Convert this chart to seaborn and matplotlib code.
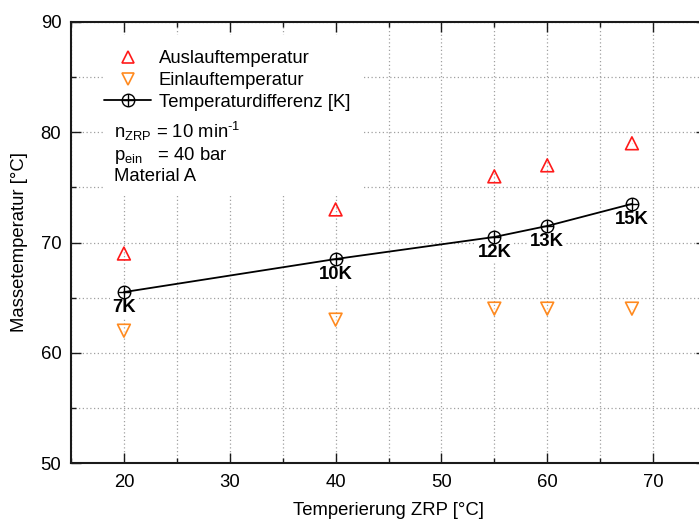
import numpy as np
import pandas as pd
import seaborn as sns
import matplotlib
matplotlib.use("Agg")
import matplotlib.pyplot as plt
from matplotlib.path import Path
from matplotlib.lines import Line2D
from matplotlib.patches import Rectangle
from matplotlib.ticker import MultipleLocator

# ---- data ----
temp_zrp = [20, 40, 55, 60, 68]
auslauf = [69, 73, 76, 77, 79]
einlauf = [62, 63, 64, 64, 64]
differenz_pos = [65.5, 68.5, 70.5, 71.5, 73.5]
differenz_labels = ["7K", "10K", "12K", "13K", "15K"]
legend_labels = ["Auslauftemperatur", "Einlauftemperatur", "Temperaturdifferenz [K]"]
info_lines = [r"n$_{\mathregular{ZRP}}$ = 10 min$^{\text{-1}}$",
              r"p$_{\mathregular{ein}}$   = 40 bar",
              "Material A"]

RED = "#ff1a1a"
ORANGE = "#ff8a1f"

sns.set_style("ticks")
plt.rcParams["font.family"] = ["Liberation Sans", "DejaVu Sans"]
plt.rcParams["mathtext.fontset"] = "custom"
plt.rcParams["mathtext.rm"] = "Liberation Sans"
plt.rcParams["mathtext.it"] = "Liberation Sans"
plt.rcParams["mathtext.bf"] = "Liberation Sans:bold"
for k in ["text.color", "axes.labelcolor", "xtick.color", "ytick.color"]:
    plt.rcParams[k] = "black"

FS = 13.3

fig = plt.figure(figsize=(6.99, 5.21), dpi=100)
ax = fig.add_axes([71 / 699, 58 / 521, 635 / 699, 441 / 521])

# circle with cross marker
circ = Path.unit_circle()
cross = Path([(-1, 0), (1, 0), (0, -1), (0, 1)],
             [Path.MOVETO, Path.LINETO, Path.MOVETO, Path.LINETO])
oplus = Path.make_compound_path(circ, cross)

df = pd.DataFrame({"x": temp_zrp, "aus": auslauf, "ein": einlauf, "diff": differenz_pos})

sns.lineplot(data=df, x="x", y="diff", color="black", lw=1.3, marker=oplus,
             markersize=9, markerfacecolor="none", markeredgecolor="black",
             markeredgewidth=1.0, ax=ax, zorder=4)
sns.scatterplot(data=df, x="x", y="aus", marker="^", s=85, facecolors="none",
                edgecolor=RED, linewidth=1.2, ax=ax, zorder=4)
sns.scatterplot(data=df, x="x", y="ein", marker="v", s=85, facecolors="none",
                edgecolor=ORANGE, linewidth=1.2, ax=ax, zorder=4)
# tiny centre dots
sns.scatterplot(data=df, x="x", y="aus", marker=".", s=2, color=RED, linewidth=0, ax=ax, zorder=4)
sns.scatterplot(data=df, x="x", y="ein", marker=".", s=2, color=ORANGE, linewidth=0, ax=ax, zorder=4)

for xv, yv, lab in zip(temp_zrp, differenz_pos, differenz_labels):
    ax.annotate(lab, (xv, yv), xytext=(0, -14.2), textcoords="offset points",
                ha="center", va="baseline", fontsize=FS, fontweight="bold",
                color="black", zorder=3.5,
                bbox=dict(facecolor="white", edgecolor="none", pad=1.5))

ax.set_xlim(15, 75)
ax.set_ylim(50, 90)
ax.xaxis.set_major_locator(MultipleLocator(10))
ax.xaxis.set_minor_locator(MultipleLocator(5))
ax.yaxis.set_major_locator(MultipleLocator(10))
ax.yaxis.set_minor_locator(MultipleLocator(5))

ax.set_axisbelow(True)
ax.grid(True, which="both", color="#a0a0a0", linestyle=(0, (1, 2)), linewidth=0.9)

for s in ax.spines.values():
    s.set_linewidth(1.5)
    s.set_color("#1a1a1a")

ax.tick_params(which="both", direction="in", top=True, right=True,
               width=1.0, color="#1a1a1a", labelsize=FS, labelcolor="black")
ax.tick_params(which="major", length=7)
ax.tick_params(which="minor", length=3.5)
ax.tick_params(axis="x", which="both", pad=8)
ax.tick_params(axis="y", which="both", pad=7)

ax.set_xlabel("Temperierung ZRP [°C]", fontsize=FS, labelpad=8)
ax.set_ylabel("Massetemperatur [°C]", fontsize=FS, labelpad=9)

# white background behind legend + info text
ax.add_patch(Rectangle((0.052, 0.608), 0.406, 0.3625, transform=ax.transAxes,
                       facecolor="white", edgecolor="none", zorder=1))

h1 = Line2D([], [], ls="none", marker="^", ms=9.2, mfc="none", mec=RED, mew=1.2)
h2 = Line2D([], [], ls="none", marker="v", ms=9.2, mfc="none", mec=ORANGE, mew=1.2)
h3 = Line2D([], [], color="black", lw=1.3, marker=oplus, ms=9, mfc="none",
            mec="black", mew=1.0)
leg = ax.legend([h1, h2, h3], legend_labels, loc="upper left",
                bbox_to_anchor=(0.052, 0.936), frameon=False, fontsize=FS,
                handlelength=2.55, handletextpad=0.4, labelspacing=0.26,
                borderpad=0, borderaxespad=0)
leg.set_zorder(6)

for yfrac, line in zip([0.737, 0.687, 0.639], info_lines):
    ax.text(0.0677, yfrac, line, transform=ax.transAxes, fontsize=FS,
            ha="left", va="baseline", zorder=6)

fig.savefig("out.png", dpi=100)
